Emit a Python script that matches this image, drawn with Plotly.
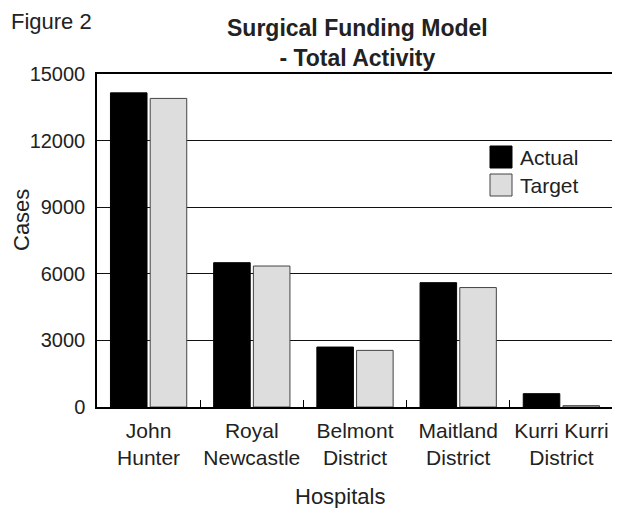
import plotly.graph_objects as go

categories = ["John<br>Hunter", "Royal<br>Newcastle", "Belmont<br>District", "Maitland<br>District", "Kurri Kurri<br>District"]
actual = [14150, 6500, 2700, 5600, 600]
target = [13900, 6350, 2550, 5380, 60]
y_ticks = [0, 3000, 6000, 9000, 12000, 15000]

FONT = "Liberation Sans, Arial, sans-serif"
TXT = "#222222"

# page has 8px body margin: figure coordinates = page coordinates - 8
OFF = 8
W, H = 620 - OFF, 508 - OFF
PL, PR, PT, PB = 97, 613, 74, 407  # plot area in page pixels
L, T = PL - OFF, PT - OFF
R = W - (PR - OFF)
B = H - (PB - OFF)
pw = PR - PL
ph = PB - PT

def px(x):
    return (x - PL) / pw

def py(y):
    return (PB - y) / ph

fig = go.Figure()
fig.add_trace(go.Bar(x=categories, y=actual, name="Actual",
                     marker=dict(color="#000000", line=dict(color="#000000", width=1)),
                     showlegend=False))
fig.add_trace(go.Bar(x=categories, y=target, name="Target",
                     marker=dict(color="#dddddd", line=dict(color="#444444", width=1)),
                     showlegend=False))

fig.update_layout(
    width=W, height=H,
    margin=dict(l=L, r=R, t=T, b=B, pad=0, autoexpand=False),
    paper_bgcolor="white", plot_bgcolor="white",
    barmode="group", bargap=0.23, bargroupgap=0.08,
    font=dict(family=FONT, color=TXT, size=20),
)
fig.update_xaxes(
    showline=True, linecolor="#000000", linewidth=1.5, mirror=True,
    ticks="inside", tickson="boundaries", ticklen=7, tickcolor="#000000", tickwidth=1,
    tickfont=dict(size=21, color=TXT), showgrid=False, ticklabelstandoff=4,
    tickangle=0, automargin=False,
)
fig.update_yaxes(
    range=[0, 15000], tickvals=y_ticks, ticktext=[str(v) for v in y_ticks],
    showline=True, linecolor="#000000", linewidth=1.5, mirror=True,
    showgrid=True, gridcolor="#111111", gridwidth=1.4,
    ticks="", tickfont=dict(size=20, color=TXT), ticklabelstandoff=6,
    zeroline=False, automargin=False,
)

# legend
legend_items = [("Actual", "#000000", "#000000", 146), ("Target", "#dddddd", "#444444", 174)]
for name, fill, line, top in legend_items:
    fig.add_shape(type="rect", xref="paper", yref="paper",
                  x0=px(490), x1=px(512), y0=py(top + 22), y1=py(top),
                  fillcolor=fill, line=dict(color=line, width=1))
    fig.add_annotation(text=name, xref="paper", yref="paper", x=px(518), y=py(top + 11),
                       xanchor="left", yanchor="middle", showarrow=False,
                       font=dict(size=21, color=TXT, family=FONT))

fig.add_annotation(text="<b>Surgical Funding Model<br>- Total Activity</b>", xref="paper", yref="paper",
                   x=px(357), y=py(43.5), xanchor="center", yanchor="middle", showarrow=False,
                   font=dict(size=23, color=TXT, family=FONT))
fig.add_annotation(text="Figure 2", xref="paper", yref="paper", x=px(9), y=py(22),
                   xanchor="left", yanchor="middle", showarrow=False,
                   font=dict(size=22, color=TXT, family=FONT))
fig.add_annotation(text="Cases", xref="paper", yref="paper", x=px(21), y=py(220),
                   xanchor="center", yanchor="middle", showarrow=False, textangle=-90,
                   font=dict(size=22, color=TXT, family=FONT))
fig.add_annotation(text="Hospitals", xref="paper", yref="paper", x=px(340), y=py(496),
                   xanchor="center", yanchor="middle", showarrow=False,
                   font=dict(size=22, color=TXT, family=FONT))

fig.write_html("out.html")
